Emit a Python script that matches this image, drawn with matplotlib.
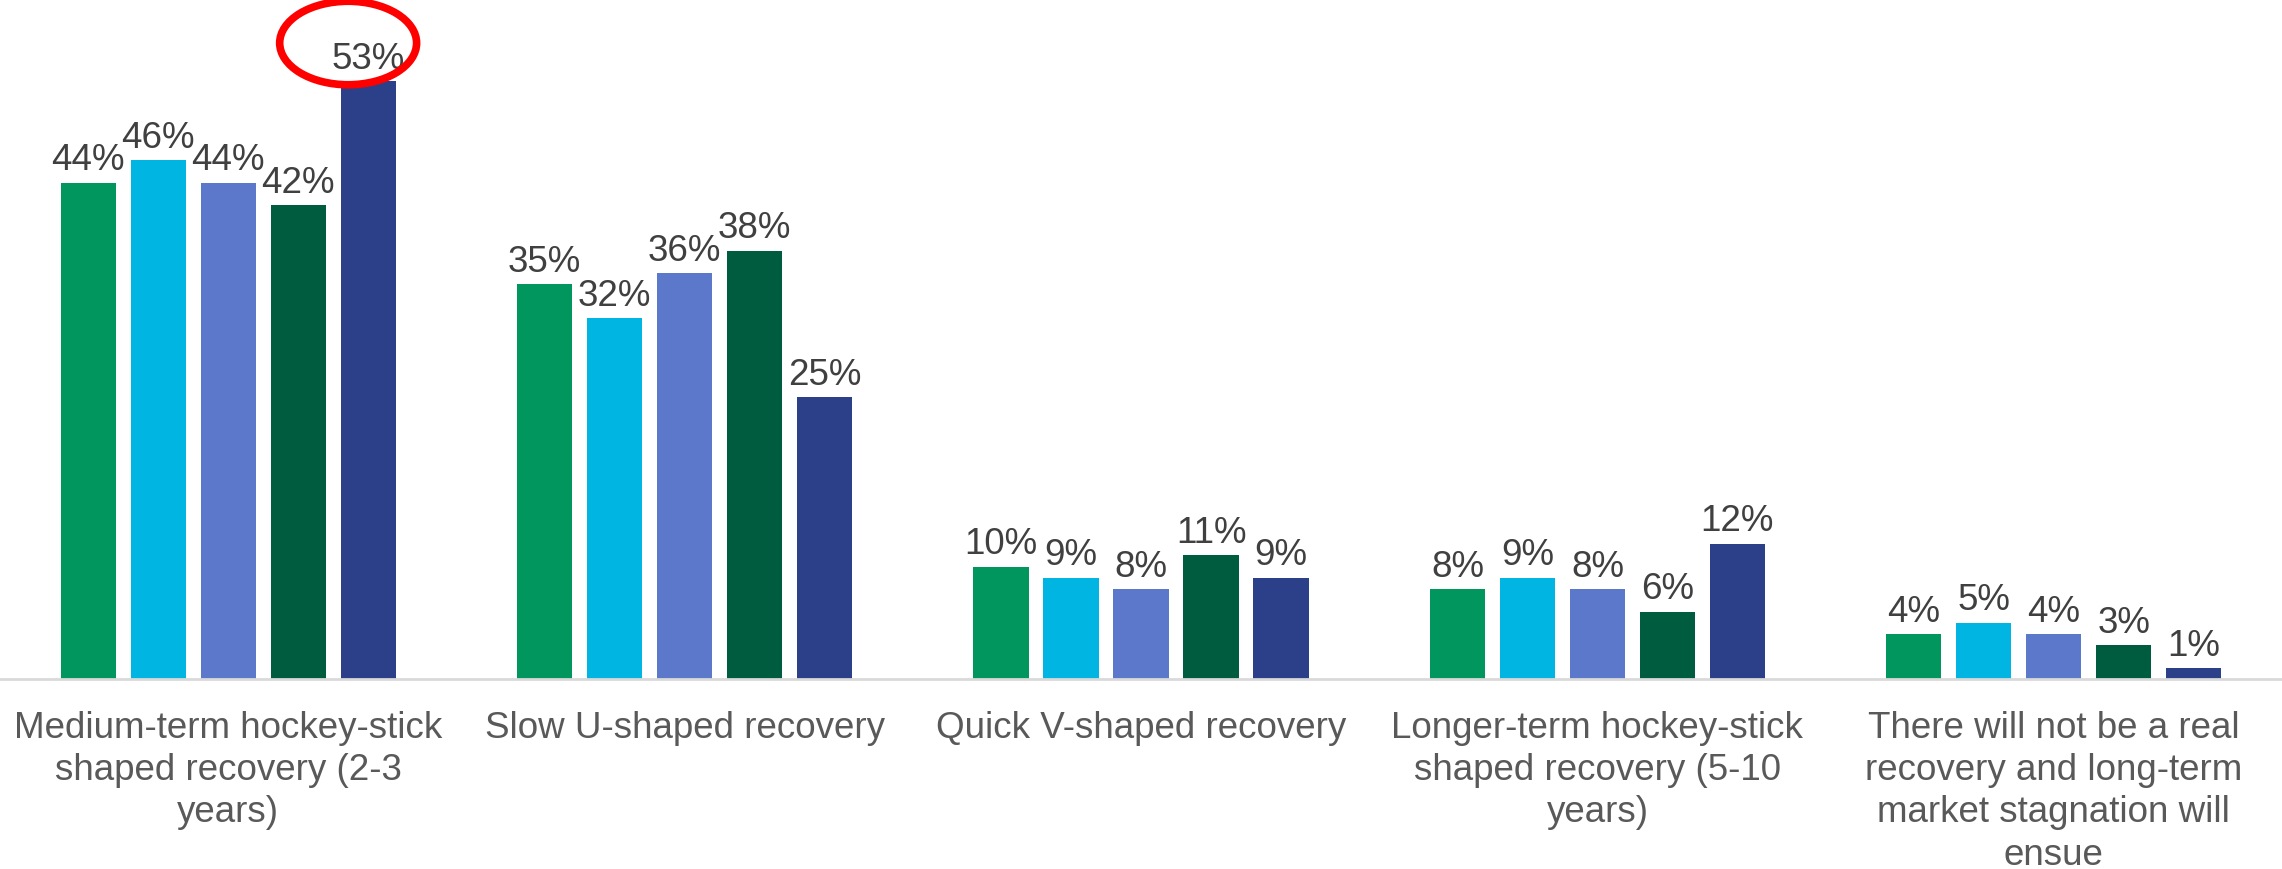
import matplotlib
matplotlib.use("Agg")
import matplotlib.pyplot as plt
import numpy as np
from matplotlib.patches import Ellipse

plt.rcParams['font.family'] = ['Liberation Sans', 'DejaVu Sans']

categories = [
    "Medium-term hockey-stick\nshaped recovery (2-3\nyears)",
    "Slow U-shaped recovery",
    "Quick V-shaped recovery",
    "Longer-term hockey-stick\nshaped recovery (5-10\nyears)",
    "There will not be a real\nrecovery and long-term\nmarket stagnation will\nensue",
]
series_a = [44, 35, 10, 8, 4]
series_b = [46, 32, 9, 9, 5]
series_c = [44, 36, 8, 8, 4]
series_d = [42, 38, 11, 6, 3]
series_e = [53, 25, 9, 12, 1]

colors = ["#00965E", "#00B5E2", "#5C78CB", "#005C3E", "#2B4088"]

fig = plt.figure(figsize=(22.82, 8.70), dpi=100)
ax = fig.add_axes([0.0, 0.218, 1.0, 0.782])

x = np.arange(len(categories))
pitch = 0.1534
width = 0.121
all_series = [series_a, series_b, series_c, series_d, series_e]

for i, (vals, col) in enumerate(zip(all_series, colors)):
    pos = x + (i - 2) * pitch
    bars = ax.bar(pos, vals, width=width, color=col, edgecolor="none", zorder=2)
    for b, v in zip(bars, vals):
        ax.annotate(f"{v}%", (b.get_x() + b.get_width() / 2, v),
                    xytext=(0, 4), textcoords="offset points",
                    ha="center", va="bottom", fontsize=26.5, color="#404040")

# highlight the top answer
hx = x[0] + 2 * pitch - 0.044
ax.add_patch(Ellipse((hx, 56.4), 0.30, 7.4, fill=False, edgecolor="#FF0000",
                     linewidth=5.5, clip_on=False, zorder=5))

ax.set_xlim(-0.5, len(categories) - 0.5)
ax.set_ylim(0, 60.3)
ax.set_xticks(x)
ax.set_xticklabels(categories, fontsize=26.5, color="#595959", linespacing=1.27)
ax.tick_params(axis="x", length=0, pad=22)
ax.set_yticks([])
for side in ["top", "left", "right"]:
    ax.spines[side].set_visible(False)
ax.spines["bottom"].set_color("#D9D9D9")
ax.spines["bottom"].set_linewidth(2)

fig.savefig("out.png", dpi=100, facecolor="white")
